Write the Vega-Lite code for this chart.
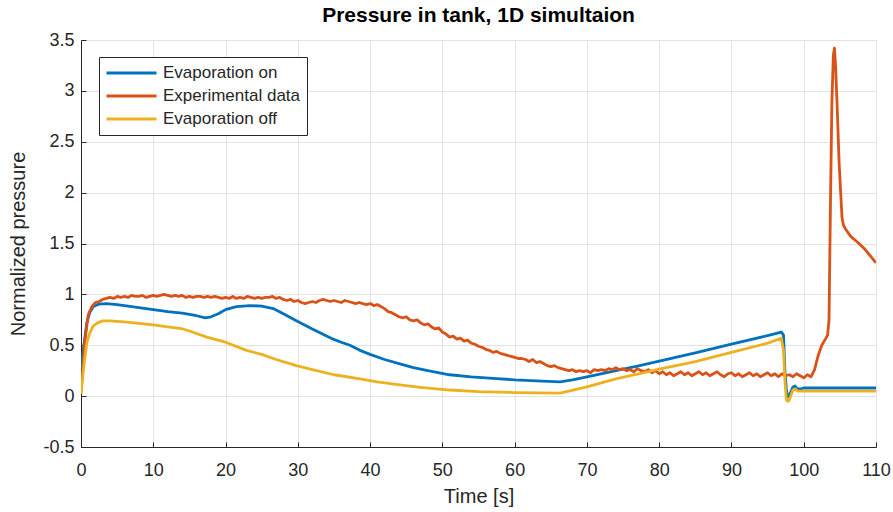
{
  "$schema": "https://vega.github.io/schema/vega-lite/v6.json",
  "width": 795,
  "height": 407,
  "autosize": {"type": "none"},
  "padding": {"left": 81, "top": 40, "right": 17, "bottom": 65},
  "background": "white",
  "config": {
    "font": "Liberation Sans",
    "view": {"stroke": "#d6d6d6", "strokeWidth": 1},
    "axis": {
      "labelFont": "Liberation Sans",
      "titleFont": "Liberation Sans",
      "labelFontSize": 18,
      "titleFontSize": 20,
      "titleFontWeight": "normal",
      "labelColor": "#262626",
      "titleColor": "#262626",
      "domainColor": "#262626",
      "tickColor": "#262626",
      "gridColor": "#e3e3e3",
      "gridWidth": 1
    }
  },
  "title": {
    "text": "Pressure in tank, 1D simultaion",
    "fontSize": 21,
    "fontWeight": "bold",
    "color": "#000000",
    "font": "Liberation Sans",
    "offset": 5
  },
  "data": {
    "values": [
      {"s":"Evaporation on","t":0,"v":0.27},{"s":"Evaporation on","t":0.4,"v":0.5},{"s":"Evaporation on","t":0.8,"v":0.72},{"s":"Evaporation on","t":1.2,"v":0.82},{"s":"Evaporation on","t":1.7,"v":0.88},{"s":"Evaporation on","t":2.5,"v":0.905},{"s":"Evaporation on","t":3.5,"v":0.91},{"s":"Evaporation on","t":5,"v":0.9},{"s":"Evaporation on","t":7,"v":0.88},{"s":"Evaporation on","t":10,"v":0.85},{"s":"Evaporation on","t":12,"v":0.83},{"s":"Evaporation on","t":14,"v":0.815},{"s":"Evaporation on","t":16,"v":0.79},{"s":"Evaporation on","t":17.2,"v":0.77},{"s":"Evaporation on","t":18,"v":0.78},{"s":"Evaporation on","t":19,"v":0.81},{"s":"Evaporation on","t":20,"v":0.85},{"s":"Evaporation on","t":21.5,"v":0.88},{"s":"Evaporation on","t":23.4,"v":0.89},{"s":"Evaporation on","t":25,"v":0.885},{"s":"Evaporation on","t":26.6,"v":0.86},{"s":"Evaporation on","t":28,"v":0.81},{"s":"Evaporation on","t":29.8,"v":0.74},{"s":"Evaporation on","t":32,"v":0.66},{"s":"Evaporation on","t":34.9,"v":0.56},{"s":"Evaporation on","t":36,"v":0.53},{"s":"Evaporation on","t":37.2,"v":0.5},{"s":"Evaporation on","t":38.6,"v":0.45},{"s":"Evaporation on","t":40,"v":0.41},{"s":"Evaporation on","t":42,"v":0.36},{"s":"Evaporation on","t":44,"v":0.32},{"s":"Evaporation on","t":46,"v":0.28},{"s":"Evaporation on","t":48,"v":0.25},{"s":"Evaporation on","t":51,"v":0.21},{"s":"Evaporation on","t":54,"v":0.19},{"s":"Evaporation on","t":57,"v":0.175},{"s":"Evaporation on","t":60,"v":0.16},{"s":"Evaporation on","t":63,"v":0.15},{"s":"Evaporation on","t":66.3,"v":0.14},{"s":"Evaporation on","t":68,"v":0.16},{"s":"Evaporation on","t":70,"v":0.19},{"s":"Evaporation on","t":77.3,"v":0.3},{"s":"Evaporation on","t":80,"v":0.345},{"s":"Evaporation on","t":85,"v":0.425},{"s":"Evaporation on","t":90,"v":0.51},{"s":"Evaporation on","t":95,"v":0.595},{"s":"Evaporation on","t":96.9,"v":0.63},{"s":"Evaporation on","t":97.2,"v":0.6},{"s":"Evaporation on","t":97.4,"v":0.25},{"s":"Evaporation on","t":97.6,"v":0.06},{"s":"Evaporation on","t":97.8,"v":-0.01},{"s":"Evaporation on","t":98.1,"v":0.02},{"s":"Evaporation on","t":98.5,"v":0.09},{"s":"Evaporation on","t":98.8,"v":0.1},{"s":"Evaporation on","t":99.1,"v":0.07},{"s":"Evaporation on","t":99.5,"v":0.07},{"s":"Evaporation on","t":100,"v":0.08},{"s":"Evaporation on","t":110,"v":0.08},

      {"s":"Experimental data","t":0,"v":0.03},{"s":"Experimental data","t":0.5,"v":0.52},{"s":"Experimental data","t":1,"v":0.8},{"s":"Experimental data","t":1.5,"v":0.88},{"s":"Experimental data","t":2,"v":0.92},{"s":"Experimental data","t":2.5,"v":0.93},{"s":"Experimental data","t":3,"v":0.95},{"s":"Experimental data","t":3.5,"v":0.96},{"s":"Experimental data","t":4,"v":0.97},{"s":"Experimental data","t":4.5,"v":0.96},{"s":"Experimental data","t":5,"v":0.98},{"s":"Experimental data","t":5.5,"v":0.97},{"s":"Experimental data","t":6,"v":0.98},{"s":"Experimental data","t":6.5,"v":0.97},{"s":"Experimental data","t":7,"v":0.99},{"s":"Experimental data","t":7.5,"v":0.98},{"s":"Experimental data","t":8,"v":0.98},{"s":"Experimental data","t":8.5,"v":0.99},{"s":"Experimental data","t":9,"v":0.97},{"s":"Experimental data","t":9.5,"v":0.98},{"s":"Experimental data","t":10,"v":0.99},{"s":"Experimental data","t":10.5,"v":0.98},{"s":"Experimental data","t":11,"v":0.99},{"s":"Experimental data","t":11.5,"v":1.0},{"s":"Experimental data","t":12,"v":0.99},{"s":"Experimental data","t":12.5,"v":0.98},{"s":"Experimental data","t":13,"v":0.99},{"s":"Experimental data","t":13.5,"v":0.98},{"s":"Experimental data","t":14,"v":0.99},{"s":"Experimental data","t":14.5,"v":0.97},{"s":"Experimental data","t":15,"v":0.98},{"s":"Experimental data","t":15.5,"v":0.97},{"s":"Experimental data","t":16,"v":0.98},{"s":"Experimental data","t":16.5,"v":0.98},{"s":"Experimental data","t":17,"v":0.97},{"s":"Experimental data","t":17.5,"v":0.98},{"s":"Experimental data","t":18,"v":0.97},{"s":"Experimental data","t":18.5,"v":0.98},{"s":"Experimental data","t":19,"v":0.97},{"s":"Experimental data","t":19.5,"v":0.96},{"s":"Experimental data","t":20,"v":0.97},{"s":"Experimental data","t":20.5,"v":0.96},{"s":"Experimental data","t":21,"v":0.98},{"s":"Experimental data","t":21.5,"v":0.96},{"s":"Experimental data","t":22,"v":0.97},{"s":"Experimental data","t":22.5,"v":0.96},{"s":"Experimental data","t":23,"v":0.98},{"s":"Experimental data","t":23.5,"v":0.97},{"s":"Experimental data","t":24,"v":0.96},{"s":"Experimental data","t":24.5,"v":0.97},{"s":"Experimental data","t":25,"v":0.96},{"s":"Experimental data","t":25.5,"v":0.97},{"s":"Experimental data","t":26,"v":0.97},{"s":"Experimental data","t":26.5,"v":0.98},{"s":"Experimental data","t":27,"v":0.96},{"s":"Experimental data","t":27.5,"v":0.97},{"s":"Experimental data","t":28,"v":0.95},{"s":"Experimental data","t":28.5,"v":0.94},{"s":"Experimental data","t":29,"v":0.95},{"s":"Experimental data","t":29.5,"v":0.93},{"s":"Experimental data","t":30,"v":0.94},{"s":"Experimental data","t":30.5,"v":0.92},{"s":"Experimental data","t":31,"v":0.91},{"s":"Experimental data","t":31.5,"v":0.92},{"s":"Experimental data","t":32,"v":0.93},{"s":"Experimental data","t":32.5,"v":0.92},{"s":"Experimental data","t":33,"v":0.94},{"s":"Experimental data","t":33.5,"v":0.95},{"s":"Experimental data","t":34,"v":0.94},{"s":"Experimental data","t":34.5,"v":0.93},{"s":"Experimental data","t":35,"v":0.94},{"s":"Experimental data","t":35.5,"v":0.93},{"s":"Experimental data","t":36,"v":0.92},{"s":"Experimental data","t":36.5,"v":0.94},{"s":"Experimental data","t":37,"v":0.93},{"s":"Experimental data","t":37.5,"v":0.92},{"s":"Experimental data","t":38,"v":0.91},{"s":"Experimental data","t":38.5,"v":0.92},{"s":"Experimental data","t":39,"v":0.91},{"s":"Experimental data","t":39.5,"v":0.9},{"s":"Experimental data","t":40,"v":0.91},{"s":"Experimental data","t":40.5,"v":0.89},{"s":"Experimental data","t":41,"v":0.9},{"s":"Experimental data","t":41.5,"v":0.88},{"s":"Experimental data","t":42,"v":0.86},{"s":"Experimental data","t":42.5,"v":0.83},{"s":"Experimental data","t":43,"v":0.82},{"s":"Experimental data","t":43.5,"v":0.8},{"s":"Experimental data","t":44,"v":0.78},{"s":"Experimental data","t":44.5,"v":0.77},{"s":"Experimental data","t":45,"v":0.78},{"s":"Experimental data","t":45.5,"v":0.75},{"s":"Experimental data","t":46,"v":0.74},{"s":"Experimental data","t":46.5,"v":0.75},{"s":"Experimental data","t":47,"v":0.72},{"s":"Experimental data","t":47.5,"v":0.7},{"s":"Experimental data","t":48,"v":0.71},{"s":"Experimental data","t":48.5,"v":0.68},{"s":"Experimental data","t":49,"v":0.66},{"s":"Experimental data","t":49.5,"v":0.67},{"s":"Experimental data","t":50,"v":0.63},{"s":"Experimental data","t":50.5,"v":0.61},{"s":"Experimental data","t":51,"v":0.58},{"s":"Experimental data","t":51.5,"v":0.59},{"s":"Experimental data","t":52,"v":0.56},{"s":"Experimental data","t":52.5,"v":0.57},{"s":"Experimental data","t":53,"v":0.54},{"s":"Experimental data","t":53.5,"v":0.55},{"s":"Experimental data","t":54,"v":0.52},{"s":"Experimental data","t":54.5,"v":0.51},{"s":"Experimental data","t":55,"v":0.49},{"s":"Experimental data","t":55.5,"v":0.48},{"s":"Experimental data","t":56,"v":0.46},{"s":"Experimental data","t":56.5,"v":0.45},{"s":"Experimental data","t":57,"v":0.43},{"s":"Experimental data","t":57.5,"v":0.44},{"s":"Experimental data","t":58,"v":0.42},{"s":"Experimental data","t":58.5,"v":0.41},{"s":"Experimental data","t":59,"v":0.4},{"s":"Experimental data","t":59.5,"v":0.39},{"s":"Experimental data","t":60,"v":0.38},{"s":"Experimental data","t":60.5,"v":0.37},{"s":"Experimental data","t":61,"v":0.37},{"s":"Experimental data","t":61.5,"v":0.36},{"s":"Experimental data","t":62,"v":0.34},{"s":"Experimental data","t":62.5,"v":0.36},{"s":"Experimental data","t":63,"v":0.33},{"s":"Experimental data","t":63.5,"v":0.34},{"s":"Experimental data","t":64,"v":0.32},{"s":"Experimental data","t":64.5,"v":0.3},{"s":"Experimental data","t":65,"v":0.29},{"s":"Experimental data","t":65.5,"v":0.3},{"s":"Experimental data","t":66,"v":0.28},{"s":"Experimental data","t":66.5,"v":0.27},{"s":"Experimental data","t":67,"v":0.26},{"s":"Experimental data","t":67.5,"v":0.25},{"s":"Experimental data","t":68,"v":0.26},{"s":"Experimental data","t":68.5,"v":0.24},{"s":"Experimental data","t":69,"v":0.25},{"s":"Experimental data","t":69.5,"v":0.24},{"s":"Experimental data","t":70,"v":0.25},{"s":"Experimental data","t":70.5,"v":0.23},{"s":"Experimental data","t":71,"v":0.26},{"s":"Experimental data","t":71.5,"v":0.25},{"s":"Experimental data","t":72,"v":0.26},{"s":"Experimental data","t":72.5,"v":0.25},{"s":"Experimental data","t":73,"v":0.27},{"s":"Experimental data","t":73.5,"v":0.26},{"s":"Experimental data","t":74,"v":0.28},{"s":"Experimental data","t":74.5,"v":0.26},{"s":"Experimental data","t":75,"v":0.27},{"s":"Experimental data","t":75.5,"v":0.25},{"s":"Experimental data","t":76,"v":0.26},{"s":"Experimental data","t":76.5,"v":0.24},{"s":"Experimental data","t":77,"v":0.27},{"s":"Experimental data","t":77.5,"v":0.25},{"s":"Experimental data","t":78,"v":0.24},{"s":"Experimental data","t":78.5,"v":0.26},{"s":"Experimental data","t":79,"v":0.23},{"s":"Experimental data","t":79.5,"v":0.25},{"s":"Experimental data","t":80,"v":0.22},{"s":"Experimental data","t":80.5,"v":0.24},{"s":"Experimental data","t":81,"v":0.21},{"s":"Experimental data","t":81.5,"v":0.23},{"s":"Experimental data","t":82,"v":0.2},{"s":"Experimental data","t":82.5,"v":0.22},{"s":"Experimental data","t":83,"v":0.24},{"s":"Experimental data","t":83.5,"v":0.21},{"s":"Experimental data","t":84,"v":0.23},{"s":"Experimental data","t":84.5,"v":0.2},{"s":"Experimental data","t":85,"v":0.22},{"s":"Experimental data","t":85.5,"v":0.24},{"s":"Experimental data","t":86,"v":0.21},{"s":"Experimental data","t":86.5,"v":0.23},{"s":"Experimental data","t":87,"v":0.2},{"s":"Experimental data","t":87.5,"v":0.22},{"s":"Experimental data","t":88,"v":0.24},{"s":"Experimental data","t":88.5,"v":0.21},{"s":"Experimental data","t":89,"v":0.19},{"s":"Experimental data","t":89.5,"v":0.22},{"s":"Experimental data","t":90,"v":0.23},{"s":"Experimental data","t":90.5,"v":0.2},{"s":"Experimental data","t":91,"v":0.22},{"s":"Experimental data","t":91.5,"v":0.19},{"s":"Experimental data","t":92,"v":0.21},{"s":"Experimental data","t":92.5,"v":0.23},{"s":"Experimental data","t":93,"v":0.2},{"s":"Experimental data","t":93.5,"v":0.22},{"s":"Experimental data","t":94,"v":0.19},{"s":"Experimental data","t":94.5,"v":0.21},{"s":"Experimental data","t":95,"v":0.23},{"s":"Experimental data","t":95.5,"v":0.2},{"s":"Experimental data","t":96,"v":0.22},{"s":"Experimental data","t":96.5,"v":0.19},{"s":"Experimental data","t":97,"v":0.22},{"s":"Experimental data","t":97.5,"v":0.2},{"s":"Experimental data","t":98,"v":0.21},{"s":"Experimental data","t":98.5,"v":0.19},{"s":"Experimental data","t":99,"v":0.22},{"s":"Experimental data","t":99.5,"v":0.2},{"s":"Experimental data","t":100,"v":0.18},{"s":"Experimental data","t":100.5,"v":0.21},{"s":"Experimental data","t":101,"v":0.19},{"s":"Experimental data","t":101.5,"v":0.26},{"s":"Experimental data","t":102,"v":0.4},{"s":"Experimental data","t":102.5,"v":0.5},{"s":"Experimental data","t":103,"v":0.56},{"s":"Experimental data","t":103.3,"v":0.6},{"s":"Experimental data","t":103.5,"v":0.75},{"s":"Experimental data","t":103.7,"v":1.9},{"s":"Experimental data","t":103.9,"v":2.9},{"s":"Experimental data","t":104.1,"v":3.35},{"s":"Experimental data","t":104.25,"v":3.42},{"s":"Experimental data","t":104.4,"v":3.25},{"s":"Experimental data","t":104.6,"v":2.9},{"s":"Experimental data","t":104.9,"v":2.29},{"s":"Experimental data","t":105.3,"v":1.75},{"s":"Experimental data","t":105.5,"v":1.68},{"s":"Experimental data","t":105.8,"v":1.64},{"s":"Experimental data","t":106.5,"v":1.57},{"s":"Experimental data","t":107.5,"v":1.51},{"s":"Experimental data","t":108.5,"v":1.44},{"s":"Experimental data","t":109.3,"v":1.37},{"s":"Experimental data","t":110,"v":1.31},

      {"s":"Evaporation off","t":0,"v":0.02},{"s":"Evaporation off","t":0.4,"v":0.3},{"s":"Evaporation off","t":0.8,"v":0.52},{"s":"Evaporation off","t":1.2,"v":0.62},{"s":"Evaporation off","t":1.7,"v":0.69},{"s":"Evaporation off","t":2.3,"v":0.72},{"s":"Evaporation off","t":3,"v":0.74},{"s":"Evaporation off","t":4,"v":0.74},{"s":"Evaporation off","t":6,"v":0.73},{"s":"Evaporation off","t":8,"v":0.715},{"s":"Evaporation off","t":10,"v":0.7},{"s":"Evaporation off","t":12,"v":0.68},{"s":"Evaporation off","t":14.1,"v":0.66},{"s":"Evaporation off","t":15,"v":0.64},{"s":"Evaporation off","t":17.4,"v":0.58},{"s":"Evaporation off","t":20,"v":0.53},{"s":"Evaporation off","t":22.9,"v":0.45},{"s":"Evaporation off","t":25,"v":0.41},{"s":"Evaporation off","t":27,"v":0.36},{"s":"Evaporation off","t":29.8,"v":0.3},{"s":"Evaporation off","t":32,"v":0.26},{"s":"Evaporation off","t":35,"v":0.21},{"s":"Evaporation off","t":38.6,"v":0.17},{"s":"Evaporation off","t":41,"v":0.14},{"s":"Evaporation off","t":44.1,"v":0.11},{"s":"Evaporation off","t":47,"v":0.085},{"s":"Evaporation off","t":51,"v":0.06},{"s":"Evaporation off","t":55,"v":0.045},{"s":"Evaporation off","t":60,"v":0.035},{"s":"Evaporation off","t":66.3,"v":0.03},{"s":"Evaporation off","t":70,"v":0.09},{"s":"Evaporation off","t":74,"v":0.17},{"s":"Evaporation off","t":77.3,"v":0.22},{"s":"Evaporation off","t":80,"v":0.265},{"s":"Evaporation off","t":85,"v":0.34},{"s":"Evaporation off","t":90,"v":0.43},{"s":"Evaporation off","t":95,"v":0.52},{"s":"Evaporation off","t":96.9,"v":0.57},{"s":"Evaporation off","t":97.2,"v":0.45},{"s":"Evaporation off","t":97.4,"v":0.15},{"s":"Evaporation off","t":97.6,"v":-0.04},{"s":"Evaporation off","t":97.9,"v":-0.05},{"s":"Evaporation off","t":98.2,"v":0.0},{"s":"Evaporation off","t":98.5,"v":0.06},{"s":"Evaporation off","t":98.8,"v":0.07},{"s":"Evaporation off","t":99.2,"v":0.05},{"s":"Evaporation off","t":99.6,"v":0.05},{"s":"Evaporation off","t":100,"v":0.05},{"s":"Evaporation off","t":110,"v":0.05}
    ]
  },
  "mark": {"type": "line", "strokeWidth": 2.8, "clip": true, "strokeJoin": "round"},
  "encoding": {
    "x": {
      "field": "t",
      "type": "quantitative",
      "scale": {"domain": [0, 110], "nice": false},
      "axis": {"title": "Time [s]", "values": [0,10,20,30,40,50,60,70,80,90,100,110], "tickSize": -5, "labelPadding": 19, "titlePadding": 7, "labelFlush": false}
    },
    "y": {
      "field": "v",
      "type": "quantitative",
      "scale": {"domain": [-0.5, 3.5], "nice": false, "zero": false},
      "axis": {"title": "Normalized pressure", "values": [-0.5,0,0.5,1,1.5,2,2.5,3,3.5], "labelExpr": "'' + datum.value", "tickSize": -5, "labelPadding": 12, "titlePadding": 14, "labelFlush": false}
    },
    "color": {
      "field": "s",
      "type": "nominal",
      "sort": ["Evaporation on", "Experimental data", "Evaporation off"],
      "scale": {"domain": ["Evaporation on", "Experimental data", "Evaporation off"], "range": ["#0072BD", "#D95319", "#EDB120"]},
      "legend": {
        "title": null,
        "orient": "none",
        "legendX": 18,
        "legendY": 17,
        "symbolType": "stroke",
        "symbolSize": 2500,
        "symbolStrokeWidth": 3,
        "labelFontSize": 17,
        "labelFont": "Liberation Sans",
        "labelColor": "#262626",
        "labelOffset": 5,
        "clipHeight": 20,
        "rowPadding": 3,
        "fillColor": "white",
        "strokeColor": "#262626",
        "padding": 6
      }
    }
  }
}
